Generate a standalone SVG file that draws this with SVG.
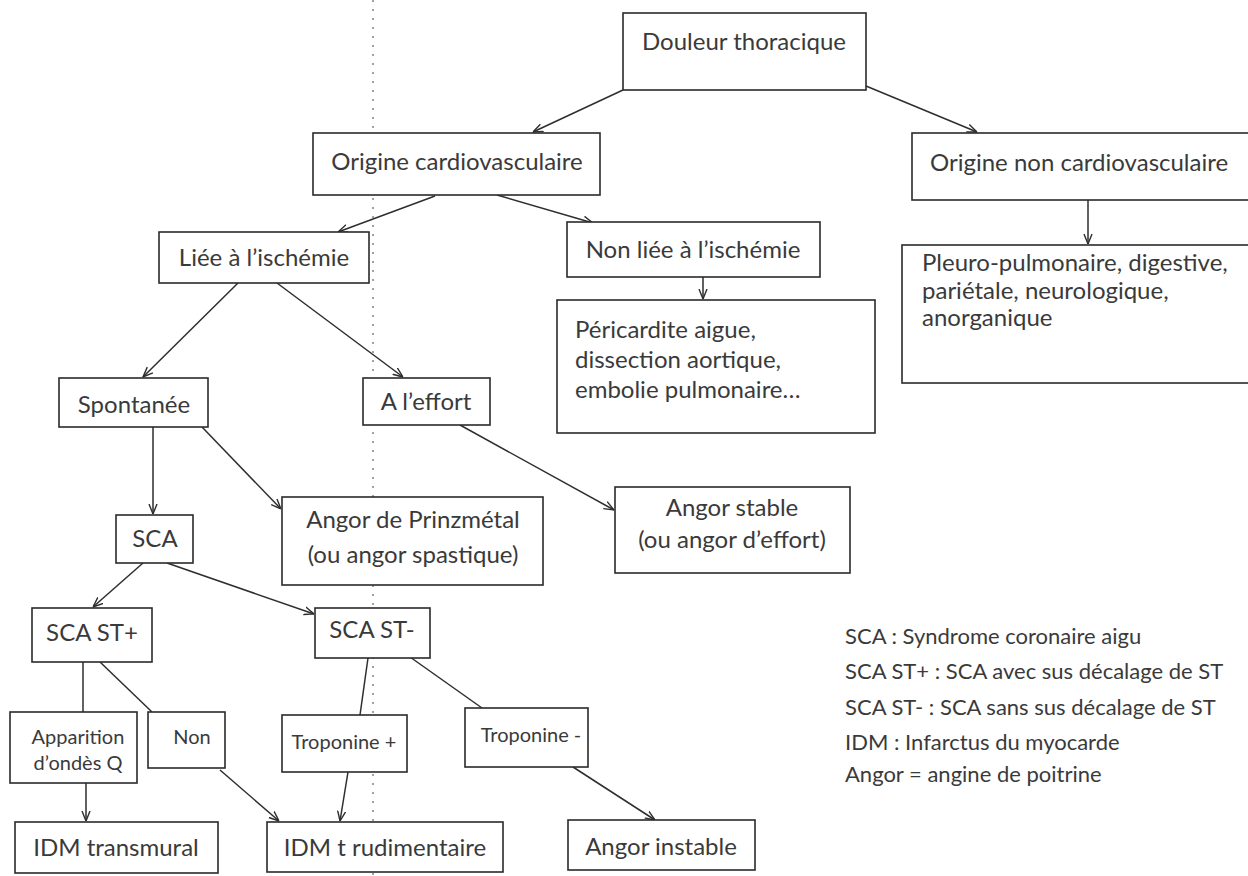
<svg xmlns="http://www.w3.org/2000/svg" width="1248" height="876" viewBox="0 0 1248 876">
<style>
.box{fill:#ffffff;stroke:#2a2a2a;stroke-width:1.6}
.t{font-family:Lato,"Liberation Sans",sans-serif;font-size:24px;fill:#3a3a3a}
.s{font-size:20px}
.lg{font-size:22px}
.c{text-anchor:middle}
.ln{fill:none;stroke:#2e2e2e;stroke-width:1.5}
.fold{stroke:#8a8a8a;stroke-width:1.6;stroke-dasharray:2 7;fill:none}
</style>
<defs>
<marker id="arr" viewBox="0 0 10 10" refX="10" refY="5" markerWidth="10" markerHeight="10" orient="auto" markerUnits="userSpaceOnUse">
<path d="M0,1 L10,5 L0,9" fill="none" stroke="#2e2e2e" stroke-width="1.4"/>
</marker>
</defs>
<rect width="1248" height="876" fill="#ffffff"/>
<path class="fold" d="M373,0 L373,876"/>

<g id="connectors">
<path class="ln" marker-end="url(#arr)" d="M623,90 L533,132"/>
<path class="ln" marker-end="url(#arr)" d="M866,86 L977,132"/>
<path class="ln" marker-end="url(#arr)" d="M435,196 L338,232"/>
<path class="ln" marker-end="url(#arr)" d="M497,195 L593,223"/>
<path class="ln" marker-end="url(#arr)" d="M1088,200 L1088,244"/>
<path class="ln" marker-end="url(#arr)" d="M703,277 L703,299"/>
<path class="ln" marker-end="url(#arr)" d="M238,283 L143,377"/>
<path class="ln" marker-end="url(#arr)" d="M277,283 L403,377"/>
<path class="ln" marker-end="url(#arr)" d="M153,427 L153,514"/>
<path class="ln" marker-end="url(#arr)" d="M202,427 L281,509"/>
<path class="ln" marker-end="url(#arr)" d="M460,425 L614,510"/>
<path class="ln" marker-end="url(#arr)" d="M143,563 L93,607"/>
<path class="ln" marker-end="url(#arr)" d="M167,563 L314,614"/>
<path class="ln" d="M83,662 L83,712"/>
<path class="ln" d="M100,662 L152,712"/>
<path class="ln" marker-end="url(#arr)" d="M86,783 L86,821"/>
<path class="ln" marker-end="url(#arr)" d="M220,770 L279,821"/>
<path class="ln" d="M368,658 L360,715"/>
<path class="ln" marker-end="url(#arr)" d="M348,772 L340,821"/>
<path class="ln" d="M410,657 L482,708"/>
<path class="ln" marker-end="url(#arr)" d="M573,767 L655,820"/>
</g>

<g id="douleur"><rect class="box" x="623" y="13" width="243" height="77"/><text class="t c" x="744" y="50">Douleur thoracique</text></g>
<g id="origine-cardio"><rect class="box" x="313" y="133" width="287" height="62"/><text class="t c" x="457" y="170">Origine cardiovasculaire</text></g>
<g id="origine-non"><rect class="box" x="912" y="133" width="350" height="67"/><text class="t" x="930" y="171">Origine non cardiovasculaire</text></g>
<g id="liee"><rect class="box" x="159" y="232" width="210" height="51"/><text class="t c" x="264" y="266">Liée à l’ischémie</text></g>
<g id="non-liee"><rect class="box" x="567" y="222" width="253" height="55"/><text class="t c" x="693" y="258">Non liée à l’ischémie</text></g>
<g id="pericardite"><rect class="box" x="557" y="300" width="318" height="133"/>
<text class="t" x="575" y="338">Péricardite aigue,</text>
<text class="t" x="575" y="368">dissection aortique,</text>
<text class="t" x="575" y="398">embolie pulmonaire…</text></g>
<g id="pleuro"><rect class="box" x="902" y="245" width="360" height="138"/>
<text class="t" x="922" y="271">Pleuro-pulmonaire, digestive,</text>
<text class="t" x="922" y="299">pariétale, neurologique,</text>
<text class="t" x="922" y="326">anorganique</text></g>
<g id="spontanee"><rect class="box" x="59" y="378" width="149" height="49"/><text class="t c" x="134" y="413">Spontanée</text></g>
<g id="effort"><rect class="box" x="363" y="378" width="127" height="47"/><text class="t c" x="426" y="410">A l’effort</text></g>
<g id="sca"><rect class="box" x="116" y="515" width="77" height="48"/><text class="t c" x="155" y="547">SCA</text></g>
<g id="prinzmetal"><rect class="box" x="282" y="497" width="261" height="88"/>
<text class="t c" x="413" y="528">Angor de Prinzmétal</text>
<text class="t c" x="413" y="563">(ou angor spastique)</text></g>
<g id="angor-stable"><rect class="box" x="615" y="487" width="235" height="86"/>
<text class="t c" x="732" y="516">Angor stable</text>
<text class="t c" x="732" y="548">(ou angor d’effort)</text></g>
<g id="sca-st-plus"><rect class="box" x="32" y="608" width="120" height="54"/><text class="t c" x="92" y="641">SCA ST+</text></g>
<g id="sca-st-moins"><rect class="box" x="315" y="608" width="115" height="50"/><text class="t c" x="372" y="638">SCA ST-</text></g>
<g id="apparition"><rect class="box" x="10" y="712" width="127" height="71"/>
<text class="t s c" x="78" y="744">Apparition</text>
<text class="t s c" x="78" y="770">d’ondès Q</text></g>
<g id="non"><rect class="box" x="148" y="712" width="77" height="56"/><text class="t s c" x="192" y="744">Non</text></g>
<g id="troponine-plus"><rect class="box" x="282" y="715" width="125" height="57"/><text class="t s c" x="344" y="749">Troponine +</text></g>
<g id="troponine-moins"><rect class="box" x="465" y="708" width="123" height="59"/><text class="t s c" x="531" y="742">Troponine -</text></g>
<g id="idm-transmural"><rect class="box" x="15" y="822" width="203" height="51"/><text class="t c" x="116" y="856">IDM transmural</text></g>
<g id="idm-rudimentaire"><rect class="box" x="267" y="822" width="236" height="50"/><text class="t c" x="385" y="856">IDM t rudimentaire</text></g>
<g id="angor-instable"><rect class="box" x="568" y="820" width="187" height="50"/><text class="t c" x="661" y="855">Angor instable</text></g>

<g id="legend">
<text class="t lg" x="845" y="644">SCA : Syndrome coronaire aigu</text>
<text class="t lg" x="845" y="679">SCA ST+ : SCA avec sus décalage de ST</text>
<text class="t lg" x="845" y="715">SCA ST- : SCA sans sus décalage de ST</text>
<text class="t lg" x="845" y="750">IDM : Infarctus du myocarde</text>
<text class="t lg" x="845" y="782">Angor = angine de poitrine</text>
</g>
</svg>
